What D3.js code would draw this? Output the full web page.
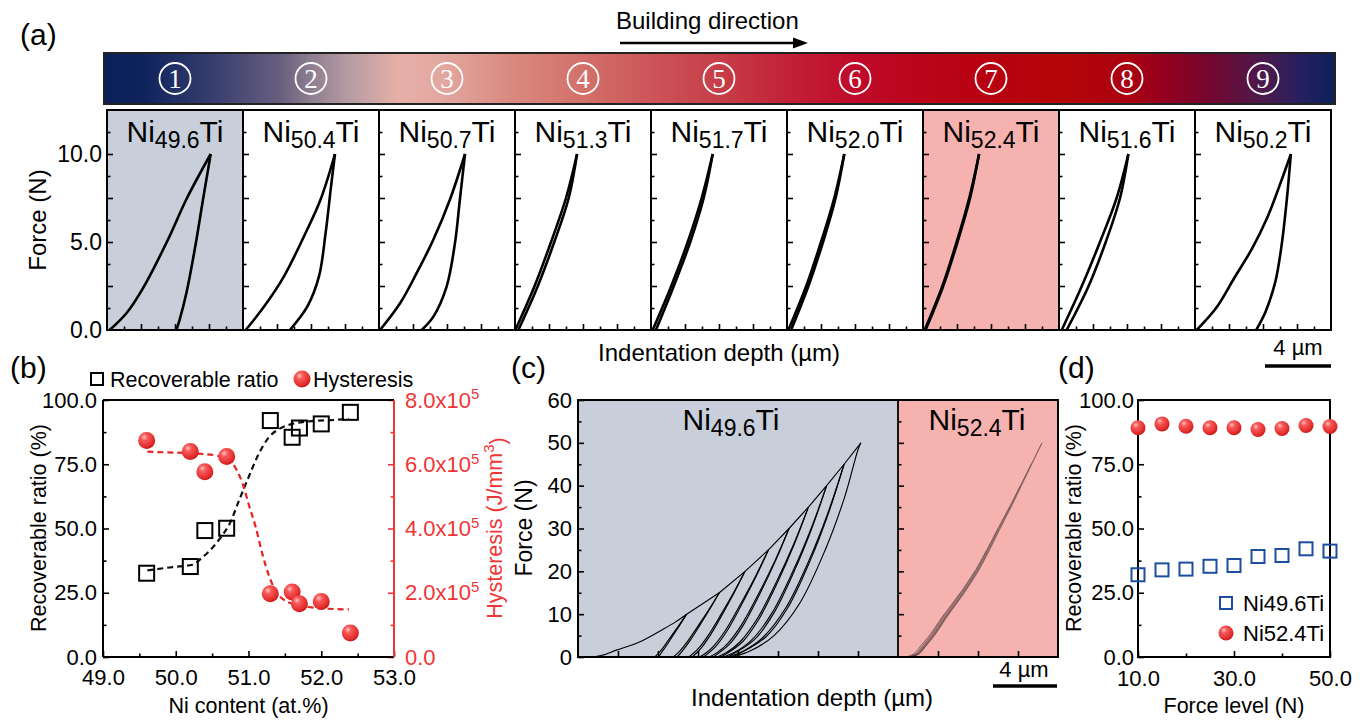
<!DOCTYPE html>
<html><head><meta charset="utf-8">
<script src="https://cdn.jsdelivr.net/npm/d3@7"></script>
<style>
html,body{margin:0;padding:0;background:#fff;}
svg{display:block;}
text{font-family:"Liberation Sans",Arial,Helvetica,sans-serif;}
</style></head><body>
<svg id="fig" width="1367" height="721"></svg>
<script>
// ================= DATA =================
// (a) nine positions along the building direction
const circledNums = ["1","2","3","4","5","6","7","8","9"];
const compA = ["49.6","50.4","50.7","51.3","51.7","52.0","52.4","51.6","50.2"];
// loading branches [depth um, force N]
const loadA = [
 [[0.16,0],[1.14,0.95],[2.12,2.38],[3.59,5.14],[4.67,7.43],[6.1,10]],
 [[0.16,0],[1.24,1.33],[2.41,3.05],[3.59,5.33],[4.57,7.43],[5.41,10]],
 [[0.06,0],[1.24,1.52],[2.22,3.24],[3.2,5.14],[4.18,7.43],[5.06,10]],
 [[0.02,0],[1.14,2.47],[2.12,5],[3.0,7.5],[3.65,10]],
 [[0.1,0],[1.18,2.47],[2.16,5],[2.98,7.5],[3.63,10]],
 [[0.08,0],[1.12,2.47],[2.0,5],[2.78,7.5],[3.37,10]],
 [[0.1,0],[1.13,2.47],[1.98,5],[2.72,7.5],[3.3,10]],
 [[0.16,0],[1.33,2.47],[2.41,5],[3.39,7.5],[4.08,10]],
 [[0.1,0],[1.23,1.23],[2.3,2.94],[3.37,4.65],[4.24,6.36],[4.92,8.06],[5.64,10]]
];
// unloading branches
const unloadA = [
 [[6.1,10],[5.65,7.43],[5.16,4.57],[4.67,2.1],[4.27,0.57],[4.08,0]],
 [[5.41,10],[5.16,8.0],[4.86,5.52],[4.47,3.05],[3.78,1.33],[2.76,0]],
 [[5.06,10],[4.76,7.43],[4.47,4.95],[3.98,2.48],[3.2,0.76],[2.51,0]],
 [[3.65,10],[3.16,7.5],[2.31,5],[1.33,2.47],[0.2,0]],
 [[3.63,10],[3.1,7.5],[2.31,5],[1.33,2.47],[0.29,0]],
 [[3.37,10],[2.86,7.5],[2.12,5],[1.25,2.47],[0.24,0]],
 [[3.3,10],[2.77,7.5],[2.03,5],[1.18,2.47],[0.15,0]],
 [[4.08,10],[3.59,7.5],[2.75,5],[1.73,2.47],[0.45,0]],
 [[5.64,10],[5.41,7.5],[5.12,5],[4.73,2.76],[4.15,1.04],[3.6,0]]
];
const highlightA = [0, 6]; // Ni49.6Ti (grey) and Ni52.4Ti (pink)

// (b)
const niContent   = [49.6, 50.2, 50.4, 50.7, 51.3, 51.6, 51.7, 52.0, 52.4];
const recovRatio  = [32.6, 35.2, 49.2, 50.1, 92.0, 85.5, 89.1, 90.7, 95.2];
const hysteresis  = [6.74e5, 6.40e5, 5.77e5, 6.24e5, 1.97e5, 2.02e5, 1.66e5, 1.73e5, 0.75e5];
const recovFitX = [49.61, 49.96, 50.23, 50.37, 50.51, 50.62, 50.74, 50.87, 51.0, 51.14, 51.28, 51.42, 51.6, 51.83, 52.15, 52.38];
const recovFitY = [33.7, 35.0, 35.9, 38.9, 42.7, 46.6, 51.8, 60.9, 69.9, 79.0, 85.5, 88.7, 90.7, 91.7, 92.2, 92.6];
const hystFitX = [49.61, 49.87, 50.24, 50.56, 50.74, 50.83, 50.92, 51.0, 51.1, 51.19, 51.28, 51.37, 51.5, 51.69, 51.92, 52.38];
const hystFitY = [6.39e5, 6.37e5, 6.34e5, 6.27e5, 6.13e5, 5.85e5, 5.39e5, 4.77e5, 4.04e5, 3.21e5, 2.54e5, 2.07e5, 1.76e5, 1.61e5, 1.53e5, 1.48e5];

// (c) cyclic indentation, Ni49.6Ti
const cInitialLoad = [[0.8,0],[1.5,0.4],[2.4,1.6],[3.88,3.56],[5.33,6.5],[6.1,8.2],[6.79,10]];
const cPeakDepth = [6.79, 8.83, 10.44, 11.9, 13.19, 14.4, 15.54, 16.63, 17.68];
const cPeakForce = [10, 15, 20, 25, 30, 35, 40, 45, 50];
const cUnload = [
 [[6.79,10],[6.33,7.5],[5.85,5],[5.38,2.5],[5.06,1],[4.88,0.3],[4.8,0]],
 [[8.83,15],[8.21,11.25],[7.55,7.5],[6.87,3.75],[6.39,1.5],[6.10,0.45],[5.95,0]],
 [[10.44,20],[9.72,15],[8.95,10],[8.13,5],[7.53,2],[7.13,0.6],[6.9,0]],
 [[11.9,25],[11.08,18.75],[10.18,12.5],[9.22,6.25],[8.46,2.5],[7.93,0.75],[7.6,0]],
 [[13.19,30],[12.31,22.5],[11.32,15],[10.22,7.5],[9.32,3],[8.65,0.9],[8.2,0]],
 [[14.4,35],[13.47,26.25],[12.4,17.5],[11.17,8.75],[10.12,3.5],[9.28,1.05],[8.7,0]],
 [[15.54,40],[14.57,30],[13.43,20],[12.08,10],[10.86,4],[9.84,1.2],[9.1,0]],
 [[16.63,45],[15.63,33.75],[14.43,22.5],[12.95,11.25],[11.54,4.5],[10.32,1.35],[9.4,0]],
 [[17.68,50],[17.5,48.4],[16.68,37.5],[15.45,25],[13.85,12.5],[12.25,5],[10.82,1.5],[9.7,0]]
];
const cReload = [
 [[5.05,0],[5.21,1],[5.5,2.5],[5.93,5],[6.37,7.5],[6.79,10]],
 [[6.2,0],[6.54,1.5],[6.99,3.75],[7.63,7.5],[8.25,11.25],[8.83,15]],
 [[7.15,0],[7.68,2],[8.25,5],[9.03,10],[9.76,15],[10.44,20]],
 [[7.85,0],[8.61,2.5],[9.34,6.25],[10.26,12.5],[11.12,18.75],[11.9,25]],
 [[8.45,0],[9.47,3],[10.34,7.5],[11.4,15],[12.35,22.5],[13.19,30]],
 [[8.95,0],[10.27,3.5],[11.29,8.75],[12.48,17.5],[13.51,26.25],[14.4,35]],
 [[9.35,0],[11.01,4],[12.2,10],[13.51,20],[14.61,30],[15.54,40]],
 [[9.65,0],[11.69,4.5],[13.07,11.25],[14.51,22.5],[15.67,33.75],[16.63,45]]
];
// (c) Ni52.4Ti
const pinkLoad = [[0.5,0],[1.0,0.8],[1.42,2.6],[2.0,5.2],[2.54,8.1],[2.9,10],[3.9,15],[4.8,20],[5.55,25],[6.25,30],[6.97,35],[7.65,40],[8.33,45],[9.0,50]];
const pinkPeaks = [10, 15, 20, 25, 30, 35, 40, 45, 50];
const pinkShift = [0.12, 0.16, 0.2, 0.24, 0.27, 0.3, 0.32, 0.34, 0.36];

// (d)
const forceLevel = [10, 15, 20, 25, 30, 35, 40, 45, 50];
const ratio496 = [32.0, 33.9, 34.2, 35.3, 35.6, 39.1, 39.5, 42.1, 41.2];
const ratio524 = [89.2, 90.7, 89.8, 89.2, 89.2, 88.5, 88.9, 90.1, 89.7];

// ================= DRAWING =================
const svg = d3.select("#fig");
const FONT = '"Liberation Sans",Arial,sans-serif';
const RED = "#f03535";
const GREY_BG = "#c8cfdb", PINK_BG = "#f5b2af";

const defs = svg.append("defs");
const bg = defs.append("linearGradient").attr("id","barGrad").attr("x1","0").attr("x2","1").attr("y1","0").attr("y2","0");
[[0,"#0b1f5a"],[0.03,"#0e225c"],[0.093,"#3a4070"],[0.145,"#6a6080"],[0.168,"#8e7e90"],[0.2,"#b89ca2"],
 [0.24,"#e6b0a8"],[0.273,"#e2a8a0"],[0.33,"#d98a80"],[0.39,"#d2706a"],[0.446,"#cc5458"],[0.5,"#c63e48"],
 [0.562,"#c11e36"],[0.611,"#bf0a2a"],[0.671,"#ba0418"],[0.721,"#b80010"],[0.777,"#b40608"],[0.832,"#aa0010"],
 [0.864,"#920020"],[0.896,"#76062e"],[0.941,"#4c1a4c"],[0.972,"#262060"],[1,"#0b1f5a"]]
 .forEach(s=>bg.append("stop").attr("offset",s[0]).attr("stop-color",s[1]));
const sg = defs.append("radialGradient").attr("id","sphere").attr("cx","0.4").attr("cy","0.35").attr("r","0.65").attr("fx","0.35").attr("fy","0.3");
sg.append("stop").attr("offset","0").attr("stop-color","#ffc2c2");
sg.append("stop").attr("offset","0.3").attr("stop-color","#f85a5a");
sg.append("stop").attr("offset","0.85").attr("stop-color","#e22a2a");
sg.append("stop").attr("offset","1").attr("stop-color","#c41818");

function styleAxis(g, color, fs){
  g.select(".domain").remove();
  g.selectAll(".tick line").attr("stroke", color).attr("stroke-width", 1.6);
  g.selectAll(".tick text").attr("fill", color).attr("font-size", fs).style("font-family", FONT);
}
function addAxis(parent, gen, tx, ty, color, fs){
  const g = parent.append("g").attr("transform",`translate(${tx},${ty})`).call(gen);
  styleAxis(g, color || "#000", fs || 22);
  return g;
}
function niLabel(parent, x, y, sub, size, subsize){
  const t = parent.append("text").attr("x",x).attr("y",y).attr("text-anchor","middle").attr("font-size",size).attr("fill","#000");
  t.append("tspan").text("Ni");
  t.append("tspan").attr("font-size",subsize).attr("dy",6).text(sub);
  t.append("tspan").attr("dy",-6).text("Ti");
}
function vLabel(parent, x, y, fs, color){
  return parent.append("text").attr("transform",`translate(${x},${y}) rotate(-90)`).attr("text-anchor","middle")
    .attr("dy","0.36em").attr("font-size",fs).attr("fill",color||"#000");
}
const f1 = d3.format(".1f");

// ---------- (a) ----------
const gA = svg.append("g");
gA.append("text").attr("x",20).attr("y",45).attr("font-size",30).text("(a)");
gA.append("text").attr("x",616).attr("y",29).attr("font-size",24).text("Building direction");
gA.append("line").attr("x1",620).attr("x2",797).attr("y1",43).attr("y2",43).attr("stroke","#000").attr("stroke-width",2.5);
gA.append("path").attr("d","M808,43 L793,37.5 L793,48.5 Z").attr("fill","#000");
gA.append("rect").attr("x",104).attr("y",53).attr("width",1231).attr("height",51).attr("fill","url(#barGrad)").attr("stroke","#222").attr("stroke-width",2);

const aX0 = 107, aW = 136, aTop = 110, aBot = 330;
const yA = d3.scaleLinear([0,12.5],[aBot,aTop]);
const lineCR = d3.curveCatmullRom.alpha(0.5);

compA.forEach((comp,i)=>{
  const x0 = aX0 + i*aW;
  const xA = d3.scaleLinear([0,8],[x0, x0+aW]);
  const cx = x0 + aW/2;
  // circled number in the bar
  gA.append("circle").attr("cx",cx).attr("cy",78.5).attr("r",15.5).attr("fill","none").attr("stroke","#fff").attr("stroke-width",1.8);
  gA.append("text").attr("x",cx).attr("y",78.5).attr("dy","0.35em").attr("text-anchor","middle")
    .attr("font-size",27).attr("fill","#fff").style("font-family",'"Liberation Serif","DejaVu Serif",serif').text(circledNums[i]);

  const g = gA.append("g");
  const fill = i===highlightA[0] ? GREY_BG : (i===highlightA[1] ? PINK_BG : "#fff");
  g.append("rect").attr("x",x0).attr("y",aTop).attr("width",aW).attr("height",aBot-aTop).attr("fill",fill);
  const ln = d3.line().x(d=>xA(d[0])).y(d=>yA(d[1])).curve(lineCR);
  g.append("path").attr("d",ln(loadA[i])).attr("fill","none").attr("stroke","#000").attr("stroke-width",2.6).attr("stroke-linejoin","round");
  g.append("path").attr("d",ln(unloadA[i])).attr("fill","none").attr("stroke","#000").attr("stroke-width",2.6).attr("stroke-linejoin","round");
  // ticks (inward)
  addAxis(g, d3.axisBottom(xA).tickValues([2,4,6]).tickSize(-6).tickFormat(""), 0, aBot);
  addAxis(g, d3.axisBottom(xA).tickValues([1,3,5,7]).tickSize(-3.5).tickFormat(""), 0, aBot);
  addAxis(g, d3.axisLeft(yA).tickValues([2.5,5,7.5,10]).tickSize(-6).tickFormat(""), x0, 0);
  addAxis(g, d3.axisLeft(yA).tickValues([1.25,3.75,6.25,8.75,11.25]).tickSize(-3.5).tickFormat(""), x0, 0);
  if (i===0) addAxis(g, d3.axisLeft(yA).tickValues([0,5,10]).tickSize(0).tickPadding(5).tickFormat(f1), x0, 0, "#000", 23);
  g.append("rect").attr("x",x0).attr("y",aTop).attr("width",aW).attr("height",aBot-aTop).attr("fill","none").attr("stroke","#000").attr("stroke-width",2);
  niLabel(g, cx, 142, comp, 30, 23);
});
vLabel(gA, 37, 220, 24).text("Force (N)");
gA.append("text").attr("x",719).attr("y",361).attr("text-anchor","middle").attr("font-size",24).text("Indentation depth (µm)");
gA.append("text").attr("x",1298).attr("y",355).attr("text-anchor","middle").attr("font-size",22).text("4 µm");
gA.append("line").attr("x1",1265).attr("x2",1331).attr("y1",366).attr("y2",366).attr("stroke","#000").attr("stroke-width",3.5);

// ---------- (b) ----------
const gB = svg.append("g");
const bL=103, bR=394, bTop=400, bBot=657;
const xB = d3.scaleLinear([49,53],[bL,bR]);
const yB = d3.scaleLinear([0,100],[bBot,bTop]);
const yB2 = d3.scaleLinear([0,8e5],[bBot,bTop]);
gB.append("text").attr("x",10).attr("y",378).attr("font-size",30).text("(b)");
// legend
gB.append("rect").attr("x",91).attr("y",373).attr("width",12).attr("height",12).attr("fill","none").attr("stroke","#000").attr("stroke-width",2);
gB.append("text").attr("x",110).attr("y",387).attr("font-size",21.5).text("Recoverable ratio");
gB.append("circle").attr("cx",302).attr("cy",379).attr("r",8.5).attr("fill","url(#sphere)");
gB.append("text").attr("x",313).attr("y",387).attr("font-size",21.5).text("Hysteresis");
// fits
gB.append("path").attr("d", d3.line().x((d,j)=>xB(d)).y((d,j)=>yB(recovFitY[j])).curve(d3.curveMonotoneX)(recovFitX))
  .attr("fill","none").attr("stroke","#111").attr("stroke-width",2.2).attr("stroke-dasharray","6,4");
gB.append("path").attr("d", d3.line().x((d,j)=>xB(d)).y((d,j)=>yB2(hystFitY[j])).curve(d3.curveMonotoneX)(hystFitX))
  .attr("fill","none").attr("stroke","#e82222").attr("stroke-width",2.2).attr("stroke-dasharray","6,4");
// markers
gB.selectAll(".sq").data(niContent).enter().append("rect")
  .attr("x",(d)=>xB(d)-7.5).attr("y",(d,j)=>yB(recovRatio[j])-7.5).attr("width",15).attr("height",15)
  .attr("fill","none").attr("stroke","#000").attr("stroke-width",2);
gB.selectAll(".sp").data(niContent).enter().append("circle")
  .attr("cx",(d)=>xB(d)).attr("cy",(d,j)=>yB2(hysteresis[j])).attr("r",8.5).attr("fill","url(#sphere)");
// axes
addAxis(gB, d3.axisBottom(xB).tickValues([49,50,51,52,53]).tickSize(-6).tickPadding(12).tickFormat(f1), 0, bBot);
addAxis(gB, d3.axisBottom(xB).tickValues([49.5,50.5,51.5,52.5]).tickSize(-3.5).tickFormat(""), 0, bBot);
addAxis(gB, d3.axisLeft(yB).tickValues([0,25,50,75,100]).tickSize(-6).tickPadding(6).tickFormat(f1), bL, 0);
addAxis(gB, d3.axisLeft(yB).tickValues([12.5,37.5,62.5,87.5]).tickSize(-3.5).tickFormat(""), bL, 0);
const gR = addAxis(gB, d3.axisRight(yB2).tickValues([0,2e5,4e5,6e5,8e5]).tickSize(-6).tickPadding(11), bR, 0, RED, 22);
gR.selectAll(".tick text").each(function(d){
  const t = d3.select(this); t.text(null);
  if (d===0){ t.text("0.0"); return; }
  t.append("tspan").text((d/1e5).toFixed(1)+"x10");
  t.append("tspan").attr("dy","-0.55em").attr("font-size",15).text("5");
});
addAxis(gB, d3.axisRight(yB2).tickValues([1e5,3e5,5e5,7e5]).tickSize(-3.5).tickFormat(""), bR, 0, RED);
gB.append("line").attr("x1",bL).attr("x2",bR).attr("y1",bTop).attr("y2",bTop).attr("stroke","#000").attr("stroke-width",2);
gB.append("line").attr("x1",bL).attr("x2",bR).attr("y1",bBot).attr("y2",bBot).attr("stroke","#000").attr("stroke-width",2);
gB.append("line").attr("x1",bL).attr("x2",bL).attr("y1",bTop).attr("y2",bBot).attr("stroke","#000").attr("stroke-width",2);
gB.append("line").attr("x1",bR).attr("x2",bR).attr("y1",bTop).attr("y2",bBot).attr("stroke",RED).attr("stroke-width",2);
gB.append("text").attr("x",(bL+bR)/2).attr("y",713).attr("text-anchor","middle").attr("font-size",21.5).text("Ni content (at.%)");
vLabel(gB, 38, 528, 21.5).text("Recoverable ratio (%)");
const hl = vLabel(gB, 494, 528, 21.5, RED);
hl.append("tspan").text("Hysteresis (J/mm");
hl.append("tspan").attr("dy","-0.55em").attr("font-size",15).text("3");
hl.append("tspan").attr("dy","0.55em").text(")");

// ---------- (c) ----------
const gC = svg.append("g");
const cL=578, cD=898, cR=1058, cTop=400, cBot=657;
const xC1 = d3.scaleLinear([0,20],[cL,cD]);
const xC2 = d3.scaleLinear([0,10],[cD,cR]);
const yC = d3.scaleLinear([0,60],[cBot,cTop]);
gC.append("text").attr("x",511).attr("y",378).attr("font-size",30).text("(c)");
gC.append("rect").attr("x",cL).attr("y",cTop).attr("width",cD-cL).attr("height",cBot-cTop).attr("fill",GREY_BG);
gC.append("rect").attr("x",cD).attr("y",cTop).attr("width",cR-cD).attr("height",cBot-cTop).attr("fill",PINK_BG);
const lnC = d3.line().x(d=>xC1(d[0])).y(d=>yC(d[1])).curve(lineCR);
const lnCl = d3.line().x(d=>xC1(d[0])).y(d=>yC(d[1]));
const cStyle = p => p.attr("fill","none").attr("stroke","#000").attr("stroke-width",1.15).attr("stroke-linejoin","round");
cStyle(gC.append("path").attr("d", lnC(cInitialLoad)));
cStyle(gC.append("path").attr("d", lnCl(cPeakDepth.map((d,j)=>[d,cPeakForce[j]]))));
cUnload.forEach(u=>cStyle(gC.append("path").attr("d", lnC(u))));
cReload.forEach(u=>cStyle(gC.append("path").attr("d", lnC(u))));
// Ni52.4Ti bundle
const lnP = d3.line().x(d=>xC2(d[0])).y(d=>yC(d[1])).curve(lineCR);
gC.append("path").attr("d", lnP(pinkLoad)).attr("fill","none").attr("stroke","#4a3a3a").attr("stroke-width",0.8).attr("opacity",0.8);
pinkPeaks.forEach((pk,k)=>{
  const pts = pinkLoad.filter(p=>p[1]<=pk).map(p=>[p[0]+pinkShift[k]*(1-p[1]/pk), p[1]]);
  gC.append("path").attr("d", lnP(pts)).attr("fill","none").attr("stroke","#4a3a3a").attr("stroke-width",0.6).attr("opacity",0.7);
});
// axes
addAxis(gC, d3.axisLeft(yC).tickValues([0,10,20,30,40,50,60]).tickSize(-6).tickPadding(6).tickFormat(d3.format("d")), cL, 0);
addAxis(gC, d3.axisLeft(yC).tickValues([5,15,25,35,45,55]).tickSize(-3.5).tickFormat(""), cL, 0);
addAxis(gC, d3.axisLeft(yC).tickValues([10,20,30,40,50]).tickSize(-6).tickFormat(""), cD, 0);
addAxis(gC, d3.axisLeft(yC).tickValues([5,15,25,35,45,55]).tickSize(-3.5).tickFormat(""), cD, 0);
addAxis(gC, d3.axisBottom(xC1).tickValues([2.5,5,7.5,10,12.5,15,17.5]).tickSize(-6).tickFormat(""), 0, cBot);
addAxis(gC, d3.axisBottom(xC2).tickValues([2.5,5,7.5]).tickSize(-6).tickFormat(""), 0, cBot);
gC.append("rect").attr("x",cL).attr("y",cTop).attr("width",cR-cL).attr("height",cBot-cTop).attr("fill","none").attr("stroke","#000").attr("stroke-width",2);
gC.append("line").attr("x1",cD).attr("x2",cD).attr("y1",cTop).attr("y2",cBot).attr("stroke","#000").attr("stroke-width",1.8);
niLabel(gC, 731, 430, "49.6", 30, 23);
niLabel(gC, 977, 430, "52.4", 30, 23);
vLabel(gC, 524, 528, 23).text("Force (N)");
gC.append("text").attr("x",812).attr("y",706).attr("text-anchor","middle").attr("font-size",24).text("Indentation depth (µm)");
gC.append("text").attr("x",1024).attr("y",677).attr("text-anchor","middle").attr("font-size",22).text("4 µm");
gC.append("line").attr("x1",993).attr("x2",1057).attr("y1",686).attr("y2",686).attr("stroke","#000").attr("stroke-width",3.5);

// ---------- (d) ----------
const gD = svg.append("g");
const dL=1138, dR=1330, dTop=400, dBot=657;
const xD = d3.scaleLinear([10,50],[dL,dR]);
const yD = d3.scaleLinear([0,100],[dBot,dTop]);
gD.append("text").attr("x",1058).attr("y",378).attr("font-size",30).text("(d)");
addAxis(gD, d3.axisBottom(xD).tickValues([10,30,50]).tickSize(-6).tickPadding(13).tickFormat(f1), 0, dBot);
addAxis(gD, d3.axisBottom(xD).tickValues([20,40]).tickSize(-3.5).tickFormat(""), 0, dBot);
addAxis(gD, d3.axisLeft(yD).tickValues([0,25,50,75,100]).tickSize(-6).tickPadding(4).tickFormat(f1), dL, 0);
addAxis(gD, d3.axisLeft(yD).tickValues([12.5,37.5,62.5,87.5]).tickSize(-3.5).tickFormat(""), dL, 0);
gD.append("rect").attr("x",dL).attr("y",dTop).attr("width",dR-dL).attr("height",dBot-dTop).attr("fill","none").attr("stroke","#000").attr("stroke-width",2);
gD.selectAll(".sq").data(forceLevel).enter().append("rect")
  .attr("x",d=>xD(d)-6.5).attr("y",(d,j)=>yD(ratio496[j])-6.5).attr("width",13).attr("height",13)
  .attr("fill","none").attr("stroke","#1d4d9e").attr("stroke-width",2);
gD.selectAll(".sp").data(forceLevel).enter().append("circle")
  .attr("cx",d=>xD(d)).attr("cy",(d,j)=>yD(ratio524[j])).attr("r",7.5).attr("fill","url(#sphere)");
gD.append("rect").attr("x",1220).attr("y",597).attr("width",12).attr("height",12).attr("fill","none").attr("stroke","#1d4d9e").attr("stroke-width",2);
gD.append("text").attr("x",1243).attr("y",611).attr("font-size",22).text("Ni49.6Ti");
gD.append("circle").attr("cx",1226).attr("cy",633).attr("r",7.5).attr("fill","url(#sphere)");
gD.append("text").attr("x",1243).attr("y",641).attr("font-size",22).text("Ni52.4Ti");
gD.append("text").attr("x",(dL+dR)/2).attr("y",713).attr("text-anchor","middle").attr("font-size",21.5).text("Force level (N)");
vLabel(gD, 1073, 528, 21.5).text("Recoverable ratio (%)");
</script>
</body></html>
